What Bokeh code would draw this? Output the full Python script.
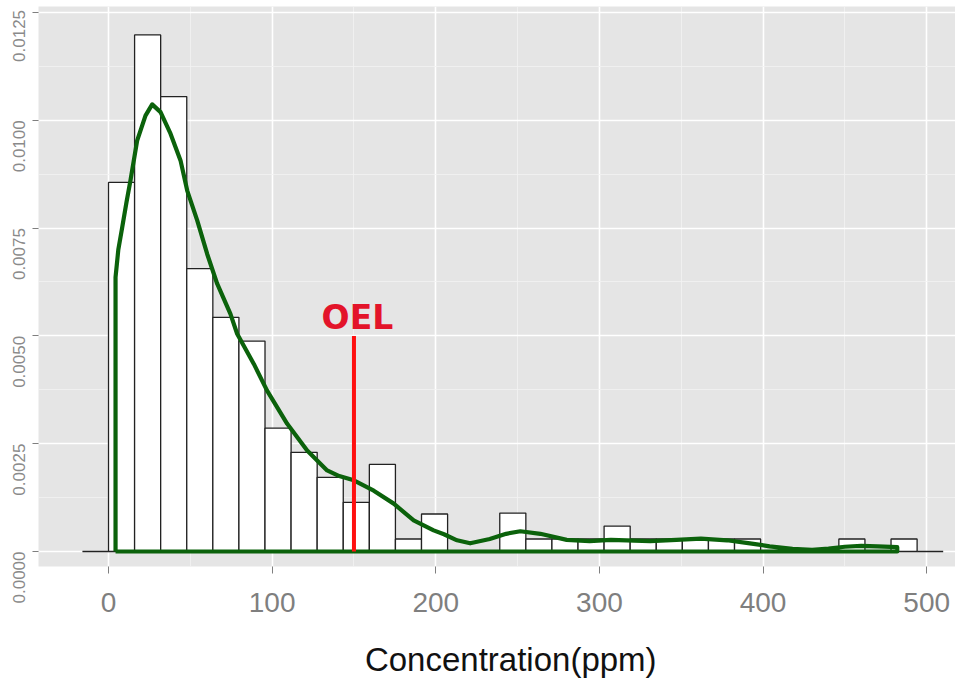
from bokeh.plotting import figure
from bokeh.models import Range1d, FixedTicker, Label
from bokeh.embed import file_html
from bokeh.resources import INLINE

# ---- data ----
bin_width = 15.94
first_edge = -15.94
hist_density = [0.0, 0.00856, 0.01198, 0.01055, 0.00656, 0.00543, 0.00488, 0.00286,
                0.00230, 0.00172, 0.00114, 0.00202, 0.00029, 0.00087, 0.0, 0.0,
                0.00089, 0.00029, 0.00029, 0.00029, 0.00059, 0.00029, 0.00029, 0.00029,
                0.00029, 0.00029, 0.0, 0.0, 0.0, 0.00029, 0.0, 0.00029, 0.0]

dens_x = [4.3, 6.0, 8.4, 11.0, 13.4, 17.5, 22.6, 26.7, 31.8, 37.9, 44.0, 48.1, 54.2,
          60.3, 66.4, 74.5, 78.6, 88.8, 96.9, 109.2, 121.4, 133.6, 141.0, 149.9, 162.1,
          174.3, 186.5, 198.7, 205.0, 213.0, 221.0, 233.0, 243.0, 251.7, 263.9, 280.0,
          294.0, 307.0, 331.0, 347.0, 362.0, 378.0, 392.0, 404.0, 418.0, 430.0, 440.0,
          450.0, 460.0, 470.0, 482.0]
dens_y = [0.00636, 0.00700, 0.00752, 0.00810, 0.00860, 0.00953, 0.01011, 0.01037,
          0.01019, 0.00969, 0.00907, 0.00837, 0.00768, 0.00690, 0.00621, 0.00551,
          0.00505, 0.00435, 0.00373, 0.00296, 0.00234, 0.00188, 0.00175, 0.00165,
          0.00141, 0.00111, 0.00072, 0.00049, 0.00040, 0.00026, 0.00019, 0.00029,
          0.00041, 0.00047, 0.00041, 0.00027, 0.00024, 0.00027, 0.00024, 0.00027,
          0.00030, 0.00026, 0.00019, 0.00012, 0.00006, 0.00004, 0.00007, 0.00011,
          0.00013, 0.00012, 0.00010]

oel_value = 150
oel_top = 0.0050
oel_label = "OEL"

x_ticks = [0, 100, 200, 300, 400, 500]
x_minor = [50, 150, 250, 350, 450]
y_ticks = [0.0, 0.0025, 0.0050, 0.0075, 0.0100, 0.0125]
y_tick_labels = ["0.0000", "0.0025", "0.0050", "0.0075", "0.0100", "0.0125"]
y_minor = [0.00125, 0.00375, 0.00625, 0.00875, 0.01125]
x_title = "Concentration(ppm)"

NBSP = "\u00a0"

# ---- figure ----
p = figure(width=955, height=681, output_backend="svg", toolbar_location=None,
           x_range=Range1d(-42.78, 517.6), y_range=Range1d(-0.000348, 0.012639),
           min_border_left=38, min_border_right=0, min_border_top=6,
           min_border_bottom=115)
p.background_fill_color = "#e5e5e5"
p.border_fill_color = "white"
p.outline_line_color = None

# grid
for g in (p.xgrid, p.ygrid):
    g.grid_line_color = "white"
    g.grid_line_width = 1.6
    g.minor_grid_line_color = "#f3f3f3"
    g.minor_grid_line_width = 0.8

# x axis
p.xaxis.ticker = FixedTicker(ticks=x_ticks, minor_ticks=x_minor)
p.xaxis.axis_line_color = None
p.xaxis.major_tick_line_color = "#7f7f7f"
p.xaxis.major_tick_in = 0
p.xaxis.major_tick_out = 7
p.xaxis.minor_tick_line_color = None
p.xaxis.major_label_text_font = "Liberation Sans"
p.xaxis.major_label_text_font_size = "28px"
p.xaxis.major_label_text_color = "#7f7f7f"
p.xaxis.major_label_standoff = 19
# shift title slightly right (reference panel continues past the right edge)
p.xaxis.axis_label = NBSP * 3 + x_title
p.xaxis.axis_label_text_font = "Liberation Sans"
p.xaxis.axis_label_text_font_style = "normal"
p.xaxis.axis_label_text_font_size = "33px"
p.xaxis.axis_label_text_color = "#111111"
p.xaxis.axis_label_standoff = 26

# y axis: vertical labels whose end sits on the tick (as in the reference)
p.yaxis.ticker = FixedTicker(ticks=y_ticks, minor_ticks=y_minor)
p.yaxis.axis_line_color = None
p.yaxis.major_tick_line_color = "#7f7f7f"
p.yaxis.major_tick_in = 0
p.yaxis.major_tick_out = 6
p.yaxis.minor_tick_line_color = None
p.yaxis.major_label_orientation = "vertical"
p.yaxis.major_label_standoff = 3
p.yaxis.major_label_text_font = "Liberation Sans"
p.yaxis.major_label_text_font_size = "17px"
p.yaxis.major_label_text_color = "#8a8a8a"
pads = [11, 11, 11, 11, 11, 2]  # top label is kept inside the canvas by Bokeh
p.yaxis.major_label_overrides = {v: t + NBSP * n
                                 for v, t, n in zip(y_ticks, y_tick_labels, pads)}

# histogram
lefts = [first_edge + i * bin_width for i in range(len(hist_density))]
rights = [l + bin_width for l in lefts]
p.quad(left=lefts, right=rights, bottom=0, top=hist_density,
       fill_color="white", line_color="#222222", line_width=1.3)

# density outline (closed like ggplot's geom_density)
path_x = [dens_x[0]] + dens_x + [dens_x[-1], dens_x[0]]
path_y = [0.0] + dens_y + [0.0, 0.0]
p.line(path_x, path_y, line_color="#0b620b", line_width=4.2, line_join="round")

# OEL marker
p.segment(x0=[oel_value], y0=[0.0], x1=[oel_value], y1=[oel_top],
          line_color="#ff1010", line_width=4)
p.add_layout(Label(x=oel_value + 2.1, y=0.00542, text=oel_label,
                   text_align="center", text_baseline="middle",
                   text_font="DejaVu Sans", text_font_style="bold",
                   text_font_size="33px", text_color="#e3142a"))

open("out.html", "w").write(file_html(p, INLINE))
